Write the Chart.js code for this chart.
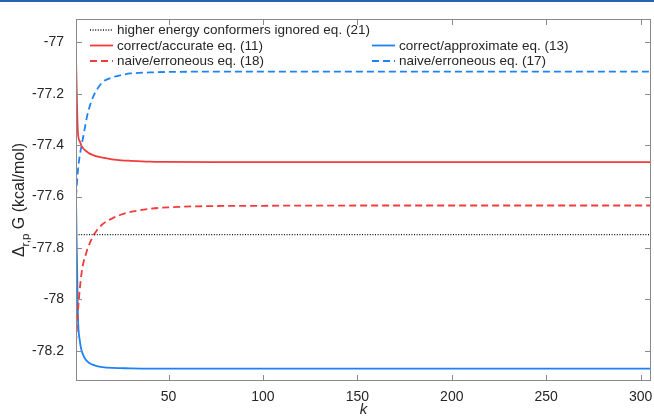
<!DOCTYPE html>
<html><head><meta charset="utf-8">
<script src="https://cdn.jsdelivr.net/npm/chart.js@4/dist/chart.umd.min.js"></script>
<style>
html,body{margin:0;padding:0;background:#fff;}
#wrap{position:relative;width:654px;height:418px;}
#topbar{position:absolute;left:0;top:0;width:654px;height:2px;background:#2a63ad;}
</style>
</head><body>
<div id="wrap"><canvas id="c" width="654" height="418"></canvas><div id="topbar"></div></div>
<script>
// ---- data ----
const kValues      = [1, 2, 3, 4, 5, 6, 7, 8, 9, 10, 12, 15, 20, 25, 30, 40, 50, 75, 100, 150, 200, 250, 305];
const higherIgnored = [-77.748,-77.748,-77.748,-77.748,-77.748,-77.748,-77.748,-77.748,-77.748,-77.748,-77.748,-77.748,-77.748,-77.748,-77.748,-77.748,-77.748,-77.748,-77.748,-77.748,-77.748,-77.748,-77.748];
const correctAccurate = [-77.062,-77.35,-77.385,-77.404,-77.414,-77.421,-77.427,-77.432,-77.436,-77.439,-77.444,-77.449,-77.455,-77.459,-77.461,-77.464,-77.465,-77.466,-77.466,-77.466,-77.466,-77.466,-77.466];
const naive18 = [-78.17,-78.05,-77.96,-77.895,-77.855,-77.83,-77.805,-77.787,-77.77,-77.755,-77.732,-77.708,-77.686,-77.670,-77.660,-77.648,-77.642,-77.637,-77.636,-77.635,-77.635,-77.635,-77.635];
const correctApprox = [-77.60,-78.06,-78.16,-78.20,-78.22,-78.233,-78.242,-78.248,-78.252,-78.255,-78.26,-78.264,-78.267,-78.268,-78.269,-78.27,-78.27,-78.27,-78.27,-78.27,-78.27,-78.27,-78.27];
const naive17 = [-77.60,-77.50,-77.44,-77.40,-77.36,-77.32,-77.283,-77.255,-77.233,-77.213,-77.185,-77.155,-77.137,-77.127,-77.121,-77.117,-77.115,-77.114,-77.114,-77.114,-77.114,-77.114,-77.114];

const xTicks = [50, 100, 150, 200, 250, 300];
const yTicks = [-78.2, -78, -77.8, -77.6, -77.4, -77.2, -77];
const yTickLabels = ['-78.2', '-78', '-77.8', '-77.6', '-77.4', '-77.2', '-77'];
const legendLabels = [
  'higher energy conformers ignored eq. (21)',
  'correct/accurate eq. (11)',
  'naive/erroneous eq. (18)',
  'correct/approximate eq. (13)',
  'naive/erroneous eq. (17)'
];

const RED = '#f43b3b', BLUE = '#1c82f6', BLACK = '#111111', AXIS = '#8a8a8a', TXT = '#262626';
const FONT = '"Liberation Sans", Arial, Helvetica, sans-serif';

function pts(arr){ return kValues.map((k,i)=>({x:k, y:arr[i]})); }

const styles = [
  {data: higherIgnored,  color: BLACK, dash: [1, 1.6], width: 1.3},
  {data: correctAccurate, color: RED,  dash: [],       width: 1.8},
  {data: naive18,         color: RED,  dash: [7, 4],   width: 1.8},
  {data: correctApprox,   color: BLUE, dash: [],       width: 1.8},
  {data: naive17,         color: BLUE, dash: [7, 4],   width: 1.8}
];
const legendPos = [
  {row:0, col:0}, {row:1, col:0}, {row:2, col:0}, {row:1, col:1}, {row:2, col:1}
];

const decor = {
  id: 'decor',
  afterDraw(chart){
    const {ctx, chartArea: a, scales: {x, y}} = chart;
    ctx.save();
    // box
    ctx.strokeStyle = AXIS; ctx.lineWidth = 1; ctx.setLineDash([]);
    ctx.strokeRect(a.left + 0.5, a.top + 0.5, a.right - a.left - 1, a.bottom - a.top - 1);
    // inward ticks on all four sides
    ctx.beginPath();
    xTicks.forEach(v => {
      const px = Math.round(x.getPixelForValue(v)) + 0.5;
      ctx.moveTo(px, a.bottom - 1); ctx.lineTo(px, a.bottom - 6);
      ctx.moveTo(px, a.top + 1); ctx.lineTo(px, a.top + 6);
    });
    yTicks.forEach(v => {
      const py = Math.round(y.getPixelForValue(v)) + 0.5;
      ctx.moveTo(a.left + 1, py); ctx.lineTo(a.left + 6, py);
      ctx.moveTo(a.right - 1, py); ctx.lineTo(a.right - 6, py);
    });
    ctx.stroke();

    // legend
    const rowsY = [30, 45.5, 61];
    const cols = [{x0: 90, x1: 113, tx: 117}, {x0: 372, x1: 395, tx: 399}];
    ctx.font = '13.5px ' + FONT;
    ctx.textBaseline = 'middle'; ctx.textAlign = 'left';
    legendLabels.forEach((lab, i) => {
      const p = legendPos[i], c = cols[p.col], yy = rowsY[p.row], s = styles[i];
      ctx.beginPath();
      ctx.strokeStyle = s.color; ctx.lineWidth = s.width; ctx.setLineDash(s.dash);
      ctx.moveTo(c.x0, yy); ctx.lineTo(c.x1, yy); ctx.stroke();
      ctx.setLineDash([]);
      ctx.fillStyle = TXT;
      ctx.fillText(lab, c.tx, yy + 0.5);
    });

    // x title
    ctx.font = 'italic 15px ' + FONT;
    ctx.textAlign = 'center'; ctx.fillStyle = TXT;
    ctx.fillText('k', (a.left + a.right) / 2, 410);

    // y title with subscript
    ctx.translate(20, (a.top + a.bottom) / 2);
    ctx.rotate(-Math.PI / 2);
    const parts = [
      {t: 'Δ', f: '16px ' + FONT, dy: 0},
      {t: 'r,p', f: '11.5px ' + FONT, dy: 5.5},
      {t: ' G (kcal/mol)', f: '16px ' + FONT, dy: 0}
    ];
    let total = 0;
    parts.forEach(p => { ctx.font = p.f; p.w = ctx.measureText(p.t).width; total += p.w; });
    let cx = -total / 2;
    ctx.textAlign = 'left';
    parts.forEach(p => { ctx.font = p.f; ctx.fillText(p.t, cx, p.dy); cx += p.w; });
    ctx.restore();
  }
};

new Chart(document.getElementById('c'), {
  type: 'line',
  data: {
    datasets: styles.map(s => ({
      data: pts(s.data),
      borderColor: s.color,
      borderWidth: s.width,
      borderDash: s.dash,
      pointRadius: 0,
      fill: false,
      cubicInterpolationMode: 'monotone'
    }))
  },
  options: {
    responsive: false,
    animation: false,
    devicePixelRatio: 1,
    layout: {padding: {top: 19, right: 3, left: 0, bottom: 0}},
    plugins: {legend: {display: false}, tooltip: {enabled: false}},
    scales: {
      x: {
        type: 'linear', min: 1, max: 305.5,
        grid: {display: false}, border: {display: false},
        afterBuildTicks: s => { s.ticks = xTicks.map(v => ({value: v})); },
        afterFit: s => { s.height = 37; s.paddingLeft = 0; s.paddingRight = 0; },
        ticks: {padding: 0, color: TXT, font: {family: FONT, size: 14}, maxRotation: 0, autoSkip: false,
                callback: v => String(v)}
      },
      y: {
        type: 'linear', min: -78.318, max: -76.909,
        grid: {display: false}, border: {display: false},
        afterBuildTicks: s => { s.ticks = yTicks.map(v => ({value: v})); },
        afterFit: s => { s.width = 76; s.paddingTop = 0; s.paddingBottom = 0; },
        ticks: {padding: 4, color: TXT, font: {family: FONT, size: 14}, autoSkip: false,
                callback: v => { const i = yTicks.findIndex(t => Math.abs(t - v) < 1e-6); return i >= 0 ? yTickLabels[i] : ''; }}
      }
    }
  },
  plugins: [decor]
});
</script>
</body></html>
